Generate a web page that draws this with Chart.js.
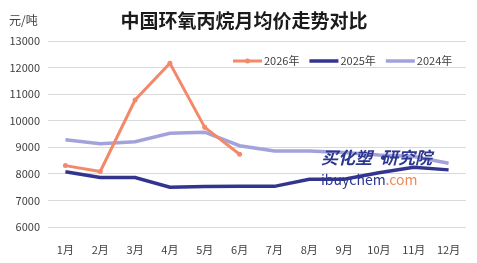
<!DOCTYPE html>
<html>
<head>
<meta charset="utf-8">
<script src="https://cdn.jsdelivr.net/npm/chart.js@4"></script>
<style>
  html, body { margin: 0; padding: 0; background: #fff; }
  #wrap { width: 477px; height: 263px; }
</style>
</head>
<body>
<div id="wrap"><canvas id="myChart" width="477" height="263"></canvas></div>
<script>
const months = ["1月", "2月", "3月", "4月", "5月", "6月", "7月", "8月", "9月", "10月", "11月", "12月"];
const seriesNames = ["2026年", "2025年", "2024年"];
const price2026 = [8310, 8090, 10780, 12160, 9750, 8740];
const price2025 = [8080, 7860, 7860, 7500, 7520, 7530, 7530, 7800, 7800, 8040, 8250, 8150];
const price2024 = [9280, 9130, 9210, 9530, 9570, 9060, 8860, 8860, 8800, 8710, 8650, 8400];
const yTicks = [6000, 7000, 8000, 9000, 10000, 11000, 12000, 13000];

const font = "'Noto Sans CJK SC', 'Noto Sans', sans-serif";
const textColor = "#404040";

// title, unit, legend and watermark drawn on top
const extras = {
  id: "extras",
  afterDraw(chart) {
    const ctx = chart.ctx;
    ctx.save();
    ctx.textBaseline = "middle";
    ctx.textAlign = "center";
    ctx.fillStyle = "#1a1a1a";
    ctx.font = "bold 19px " + font;
    ctx.fillText("中国环氧丙烷月均价走势对比", 244, 21);

    ctx.textAlign = "left";
    ctx.fillStyle = textColor;
    ctx.font = "12px " + font;
    ctx.fillText("元/吨", 9, 20);

    // watermark
    ctx.font = "italic bold 17px " + font;
    ctx.fillStyle = "#2d3690";
    ctx.textBaseline = "alphabetic";
    ctx.fillText("买化塑", 321, 164);
    let w1 = ctx.measureText("买化塑").width;
    ctx.fillText("·", 321 + w1 + 1, 164);
    ctx.fillText("研究院", 321 + w1 + 9, 164);
    ctx.font = "14px " + font;
    ctx.fillText("ibuychem", 321, 185);
    let w = ctx.measureText("ibuychem").width;
    ctx.fillStyle = "#f08a5d";
    ctx.fillText(".com", 321 + w, 185);

    // legend
    let x = 233;
    const y = 61;
    ctx.font = "11px " + font;
    ctx.textBaseline = "middle";
    chart.data.datasets.forEach((ds) => {
      ctx.strokeStyle = ds.borderColor;
      ctx.lineWidth = ds.borderWidth;
      ctx.beginPath();
      ctx.moveTo(x, y);
      ctx.lineTo(x + 29, y);
      ctx.stroke();
      if (ds.pointRadius > 0) {
        ctx.fillStyle = ds.borderColor;
        ctx.beginPath();
        ctx.arc(x + 14.5, y, ds.pointRadius, 0, Math.PI * 2);
        ctx.fill();
      }
      ctx.fillStyle = textColor;
      ctx.fillText(ds.label, x + 31, y);
      x += 31 + ctx.measureText(ds.label).width + 10;
    });
    ctx.restore();
  },
};

new Chart(document.getElementById("myChart"), {
  type: "line",
  data: {
    labels: months,
    datasets: [
      {
        label: seriesNames[0],
        data: price2026,
        borderColor: "#f4896a",
        backgroundColor: "#f4896a",
        borderWidth: 3,
        pointRadius: 2.5,
        pointHoverRadius: 2.5,
        pointBorderWidth: 0,
      },
      {
        label: seriesNames[1],
        data: price2025,
        borderColor: "#33348e",
        backgroundColor: "#33348e",
        borderWidth: 3.5,
        pointRadius: 0,
      },
      {
        label: seriesNames[2],
        data: price2024,
        borderColor: "#a3a3dc",
        backgroundColor: "#a3a3dc",
        borderWidth: 3.5,
        pointRadius: 0,
      },
    ],
  },
  options: {
    responsive: false,
    animation: false,
    layout: { padding: { left: 0, right: 11, top: 41, bottom: 0 } },
    plugins: {
      legend: { display: false },
      tooltip: { enabled: false },
      title: { display: false },
    },
    scales: {
      x: {
        offset: true,
        grid: { display: false },
        border: { display: false },
        ticks: { color: textColor, font: { family: font, size: 11 }, padding: 8, maxRotation: 0, autoSkip: false },
        afterFit: (scale) => { scale.height = 36; },
      },
      y: {
        min: yTicks[0],
        max: yTicks[yTicks.length - 1],
        afterBuildTicks: (scale) => { scale.ticks = yTicks.map((v) => ({ value: v })); },
        grid: { color: "#d9d9d9", lineWidth: 1, drawTicks: false },
        border: { display: false },
        ticks: {
          color: textColor,
          font: { family: font, size: 11 },
          padding: 8,
          callback: (v) => String(v),
        },
        afterFit: (scale) => { scale.width = 48; },
      },
    },
  },
  plugins: [extras],
});
</script>
</body>
</html>
